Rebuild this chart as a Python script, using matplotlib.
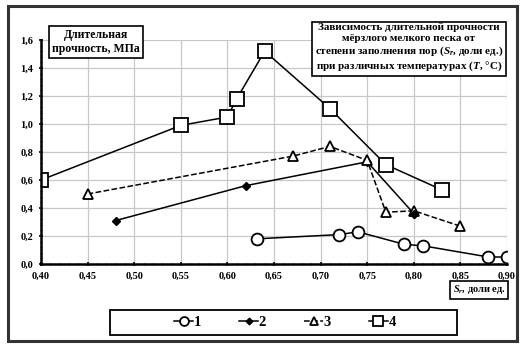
import matplotlib.pyplot as plt
from matplotlib.patches import Rectangle
from matplotlib.ticker import MultipleLocator, FuncFormatter

# series 1: circles
sr1 = [0.632, 0.72, 0.74, 0.79, 0.81, 0.88, 0.90]
p1 = [0.18, 0.21, 0.23, 0.14, 0.13, 0.05, 0.05]
# series 2: black diamonds
sr2 = [0.48, 0.62, 0.75, 0.80]
p2 = [0.31, 0.56, 0.73, 0.36]
# series 3: triangles
sr3 = [0.45, 0.67, 0.71, 0.75, 0.77, 0.80, 0.85]
p3 = [0.50, 0.77, 0.84, 0.74, 0.37, 0.38, 0.27]
# series 4: squares
sr4 = [0.40, 0.55, 0.60, 0.61, 0.64, 0.71, 0.77, 0.83]
p4 = [0.60, 0.99, 1.05, 1.18, 1.52, 1.11, 0.71, 0.53]

labels = ['1', '2', '3', '4']

plt.rcParams['font.family'] = ['Liberation Serif', 'DejaVu Serif']
plt.rcParams['font.weight'] = 'bold'
plt.rcParams['mathtext.fontset'] = 'custom'
plt.rcParams['mathtext.it'] = 'Liberation Serif:italic:bold'
plt.rcParams['mathtext.rm'] = 'Liberation Serif:bold'

fig = plt.figure(figsize=(5.2, 3.44), dpi=100)
ax = fig.add_axes([41 / 520, 1 - 264 / 344, 466 / 520, 224 / 344])

# outer frame
fig.patches.append(Rectangle((8 / 520, 3 / 344), 509 / 520, 335 / 344, transform=fig.transFigure,
                             fill=False, edgecolor='#333333', linewidth=2.2))

l1, = ax.plot(sr1, p1, '-', color='black', lw=1.1, marker='o', ms=8.5, mfc='white', mec='black', mew=1.3)
l2, = ax.plot(sr2, p2, '-', color='black', lw=1.1, marker='D', ms=4.5, mfc='black', mec='black')
l3, = ax.plot(sr3, p3, '--', color='black', lw=1.1, marker='^', ms=7.5, mfc='white', mec='black', mew=1.3)
l4, = ax.plot(sr4, p4, '-', color='black', lw=1.1, marker='s', ms=9.5, mfc='white', mec='black', mew=1.3)
# diamond on top of the triangle at 0.80
ax.plot(sr2[-1:], p2[-1:], 'D', ms=4.5, color='black', zorder=5)

ax.set_xlim(0.40, 0.90)
ax.set_ylim(0.0, 1.6)
ax.xaxis.set_major_locator(MultipleLocator(0.05))
ax.xaxis.set_minor_locator(MultipleLocator(0.01))
ax.yaxis.set_major_locator(MultipleLocator(0.2))
ax.yaxis.set_minor_locator(MultipleLocator(0.04))
ax.xaxis.set_major_formatter(FuncFormatter(lambda v, p: f'{v:.2f}'.replace('.', ',')))
ax.yaxis.set_major_formatter(FuncFormatter(lambda v, p: f'{v:.1f}'.replace('.', ',')))
ax.tick_params(axis='both', which='major', labelsize=7.5, length=3, width=1.2, direction='inout', pad=4)
ax.tick_params(axis='both', which='minor', length=2, width=0.8, direction='inout')
ax.grid(True, which='major', color='#c8c8c8', lw=0.9)
for s in ['top', 'right']:
    ax.spines[s].set_visible(False)
for s in ['left', 'bottom']:
    ax.spines[s].set_linewidth(1.8)

box = dict(boxstyle='square,pad=0.25', facecolor='white', edgecolor='black', linewidth=1.2)
fig.text(96 / 520, 1 - 42 / 344, 'Длительная\nпрочность, МПа', ha='center', va='center',
         fontsize=8.5, fontweight='bold', linespacing=1.15, bbox=box)
fig.text(409 / 520, 1 - 48 / 344,
         'Зависимость длительной прочности\nмёрзлого мелкого песка от\n'
         'степени заполнения пор ($S_r$, доли ед.)\nпри различных температурах ($T$, °C)',
         ha='center', va='center', fontsize=8, fontweight='bold', linespacing=1.2, bbox=box)
fig.text(479 / 520, 1 - 290 / 344, '$S_r$, доли ед.', ha='center', va='center',
         fontsize=7.5, fontweight='bold', bbox=dict(boxstyle='square,pad=0.2', facecolor='white',
                                                    edgecolor='black', linewidth=1.2))

# legend box drawn separately, wider than its entries
fig.patches.append(Rectangle((110 / 520, 1 - 335 / 344), 347 / 520, 25 / 344, transform=fig.transFigure,
                             fill=False, edgecolor='black', linewidth=1.3))
leg = fig.legend([l1, l2, l3, l4], labels, loc='center', bbox_to_anchor=(285 / 520, 1 - 322 / 344),
                 ncol=4, fontsize=10.5, frameon=False, handlelength=1.3,
                 handletextpad=0.05, columnspacing=2.6, borderpad=0.2, markerscale=0.75)

fig.savefig('out.png', dpi=100)
